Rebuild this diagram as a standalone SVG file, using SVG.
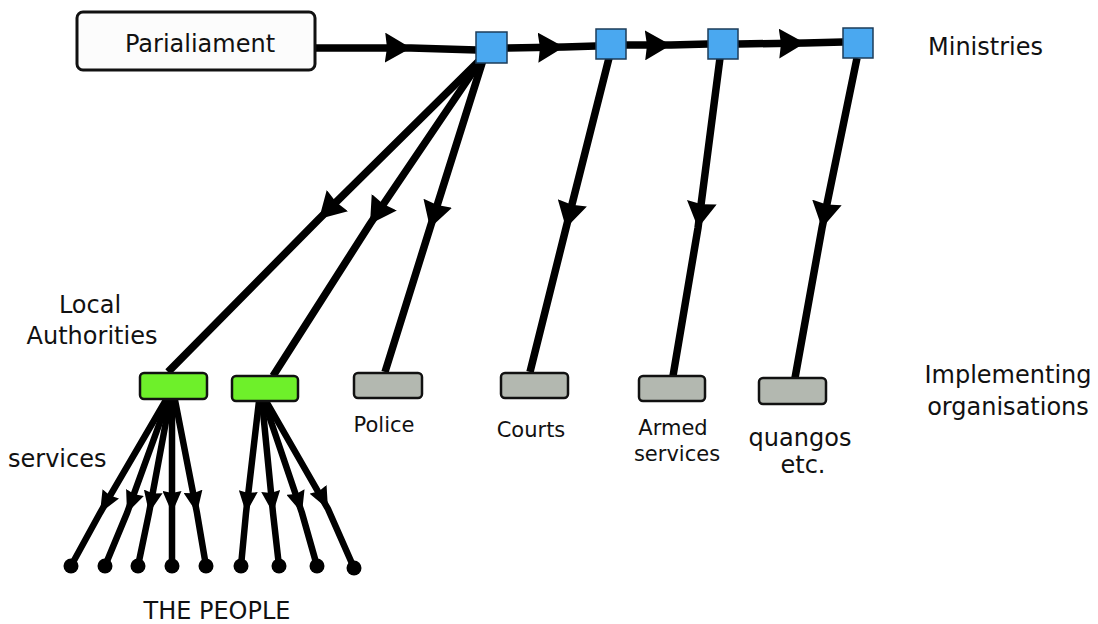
<svg xmlns="http://www.w3.org/2000/svg" width="1098" height="624" viewBox="0 0 1098 624">
<style>
.t{font-family:"DejaVu Sans","Liberation Sans",sans-serif;font-size:24px;fill:#111}
.s{font-size:21px}
.m{fill:#4aa8f0;stroke:#1d3c5a;stroke-width:1.5}
.g{fill:#6ef02a;stroke:#111;stroke-width:2.5}
.o{fill:#b3b8b0;stroke:#111;stroke-width:2.5}
.c{fill:none;stroke:#000;stroke-width:7.5;stroke-linecap:butt}
.f{fill:none;stroke:#000;stroke-width:6.5}
</style>
<defs>
<marker id="a" markerUnits="userSpaceOnUse" viewBox="0 0 26 30" refX="26" refY="15" markerWidth="26" markerHeight="30" orient="auto"><path d="M0,0 L26,15 L0,30 L2,15 Z" fill="#000"/></marker>
<marker id="s" markerUnits="userSpaceOnUse" viewBox="0 0 22 19" refX="22" refY="9.5" markerWidth="22" markerHeight="19" orient="auto"><path d="M0,0 L22,9.5 L0,19 L2,9.5 Z" fill="#000"/></marker>
<marker id="d" markerUnits="userSpaceOnUse" viewBox="0 0 16 16" refX="8" refY="8" markerWidth="16" markerHeight="16"><circle cx="8" cy="8" r="7.5" fill="#000"/></marker>
</defs>
<g id="connectors">
<path class="c" d="M315,48 L411,48 L477,50" marker-mid="url(#a)"/>
<path class="c" d="M507,48 L564,47 L596,46" marker-mid="url(#a)"/>
<path class="c" d="M626,45 L671,45 L708,44" marker-mid="url(#a)"/>
<path class="c" d="M738,44 L805,43 L843,42" marker-mid="url(#a)"/>
<path class="c" d="M480,60 L319,219 L168,372" marker-mid="url(#a)"/>
<path class="c" d="M481,60 L370,224 L273,376" marker-mid="url(#a)"/>
<path class="c" d="M483,60 L430,228 L385,372" marker-mid="url(#a)"/>
<path class="c" d="M609,58 L566,228 L530,372" marker-mid="url(#a)"/>
<path class="c" d="M720,58 L698,228 L673,376" marker-mid="url(#a)"/>
<path class="c" d="M857,58 L822,228 L795,378" marker-mid="url(#a)"/>
<path class="f" d="M166,400 L100,513 L71,566" marker-mid="url(#s)" marker-end="url(#d)"/>
<path class="f" d="M168,400 L127,513 L105,566" marker-mid="url(#s)" marker-end="url(#d)"/>
<path class="f" d="M170,400 L149,513 L138,566" marker-mid="url(#s)" marker-end="url(#d)"/>
<path class="f" d="M172,400 L172,513 L172,566" marker-mid="url(#s)" marker-end="url(#d)"/>
<path class="f" d="M175,400 L197,513 L206,566" marker-mid="url(#s)" marker-end="url(#d)"/>
<path class="f" d="M259,401 L246,513 L241,566" marker-mid="url(#s)" marker-end="url(#d)"/>
<path class="f" d="M262,401 L273,513 L279,566" marker-mid="url(#s)" marker-end="url(#d)"/>
<path class="f" d="M264,401 L302,513 L317,566" marker-mid="url(#s)" marker-end="url(#d)"/>
<path class="f" d="M266,401 L328,509 L354,568" marker-mid="url(#s)" marker-end="url(#d)"/>
</g>
<g id="parliament"><rect x="77" y="12" width="238" height="58" rx="6" fill="#fcfcfc" stroke="#111" stroke-width="3"/><text class="t" x="200" y="52" text-anchor="middle">Parialiament</text></g>
<g id="m1"><rect class="m" x="476" y="32" width="31" height="31"/></g>
<g id="m2"><rect class="m" x="596" y="29" width="30" height="30"/></g>
<g id="m3"><rect class="m" x="708" y="29" width="30" height="30"/></g>
<g id="m4"><rect class="m" x="843" y="28" width="30" height="30"/></g>
<g id="ministries"><text class="t" x="928" y="55">Ministries</text></g>
<g id="la1"><rect class="g" x="140" y="373" width="67" height="26" rx="4"/></g>
<g id="la2"><rect class="g" x="232" y="376" width="66" height="25" rx="4"/></g>
<g id="police"><rect class="o" x="354" y="373" width="68" height="25" rx="4"/><text class="t s" x="384" y="432" text-anchor="middle">Police</text></g>
<g id="courts"><rect class="o" x="501" y="373" width="67" height="25" rx="4"/><text class="t s" x="531" y="437" text-anchor="middle">Courts</text></g>
<g id="armed"><rect class="o" x="639" y="376" width="66" height="25" rx="4"/><text class="t s" x="673" y="435" text-anchor="middle">Armed</text><text class="t s" x="677" y="461" text-anchor="middle">services</text></g>
<g id="quangos"><rect class="o" x="759" y="378" width="67" height="26" rx="4"/><text class="t" x="800" y="446" text-anchor="middle">quangos</text><text class="t" x="803" y="473" text-anchor="middle">etc.</text></g>
<g id="labels">
<text class="t" x="90" y="313" text-anchor="middle">Local</text>
<text class="t" x="92" y="344" text-anchor="middle">Authorities</text>
<text class="t" x="8" y="467">services</text>
<text class="t" x="217" y="619" text-anchor="middle">THE PEOPLE</text>
<text class="t" x="1008" y="383" text-anchor="middle">Implementing</text>
<text class="t" x="1008" y="415" text-anchor="middle">organisations</text>
</g>
</svg>
